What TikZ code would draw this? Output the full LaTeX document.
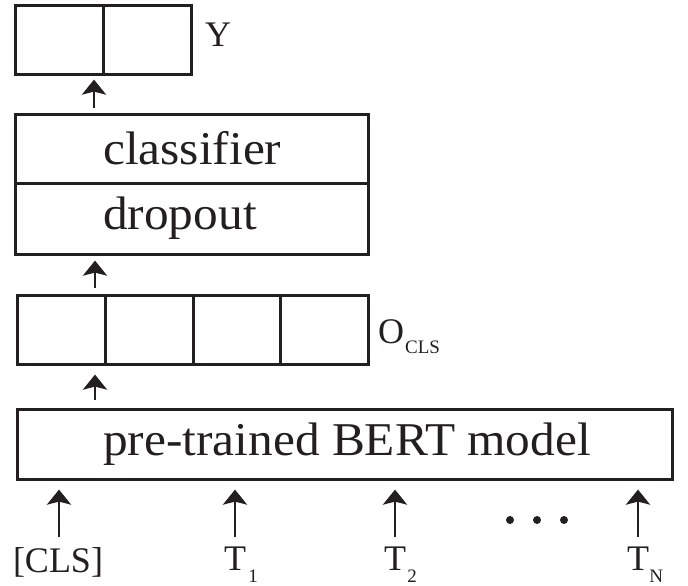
\documentclass[tikz,border=0pt]{standalone}
\usepackage{fontspec}
\setmainfont{Liberation Serif}
\usetikzlibrary{arrows.meta,calc}
\definecolor{ink}{HTML}{231F20}
\begin{document}
\begin{tikzpicture}[x=1pt,y=-1pt,
  cell/.style={draw=ink,line width=2.6pt,inner sep=0pt,anchor=north west},
  big/.style={font=\fontsize{47}{52}\selectfont,inner sep=0pt,text=ink},
  lbl/.style={font=\fontsize{36}{40}\selectfont,inner sep=0pt,text=ink},
  sub/.style={font=\fontsize{19}{21}\selectfont,inner sep=0pt,text=ink},
  arr/.style={draw=ink,line width=2.8pt,-{Stealth[length=15pt,width=24pt,inset=3pt]}}]
\fill[white] (0,0) rectangle (688,586);
\useasboundingbox (0,0) rectangle (688,586);
% output Y
\node[cell,minimum width=88pt,minimum height=69pt] (y1) at (14,4) {};
\node[cell,minimum width=88pt,minimum height=69pt] (y2) at (102,4) {};
\node[lbl,anchor=base west] (ylab) at (205,47) {Y};
% classifier / dropout
\node[cell,minimum width=353pt,minimum height=69pt] (cb) at (14,113) {};
\node[cell,minimum width=353pt,minimum height=71pt] (db) at (14,182) {};
\node[big,anchor=base west] (tc) at (103,164) {\scalebox{1.05}[1]{classifier}};
\node[big,anchor=base west] (td) at (103,229) {\scalebox{1.05}[1]{dropout}};
% O_CLS
\node[cell,minimum width=88pt,minimum height=69pt] (o1) at (16,294) {};
\node[cell,minimum width=88pt,minimum height=69pt] (o2) at (104,294) {};
\node[cell,minimum width=87pt,minimum height=69pt] (o3) at (192,294) {};
\node[cell,minimum width=88pt,minimum height=69pt] (o4) at (279,294) {};
\node[lbl,anchor=base west] (olab) at (378,343) {O};
\node[sub,anchor=base west] (osub) at (405,353) {CLS};
% BERT
\node[cell,minimum width=655pt,minimum height=70pt] (bb) at (16,408) {};
\node[big,anchor=base west] (tb) at (103,455) {\scalebox{1.05}[1]{pre-trained BERT model}};
% vertical arrows
\draw[arr] ([xshift=80pt,yshift=5pt]cb.north west) -- ([xshift=80pt,yshift=-4pt]y1.south west);
\draw[arr] ([xshift=79pt,yshift=6pt]o1.north west) -- ([xshift=81pt,yshift=-5pt]db.south west);
\draw[arr] ([xshift=79pt,yshift=8pt]bb.north west) -- ([xshift=79pt,yshift=-9pt]o1.south west);
% inputs
\node[lbl,anchor=base] (lcls) at (58,572) {[CLS]};
\node[lbl,anchor=base] (lt1) at (235,570) {T};
\node[sub,anchor=base west] (st1) at ([xshift=2pt,yshift=-12pt]lt1.base east) {1};
\node[lbl,anchor=base] (lt2) at (395,570) {T};
\node[sub,anchor=base west] (st2) at ([xshift=1pt,yshift=-12pt]lt2.base east) {2};
\node[lbl,anchor=base] (ltn) at (638,570) {T};
\node[sub,anchor=base west] (stn) at ([xshift=0pt,yshift=-12pt]ltn.base east) {N};
\coordinate (i0) at (59,537);
\coordinate (i1) at (235,537);
\coordinate (i2) at (395,537);
\coordinate (i3) at (638,537);
\foreach \c in {i0,i1,i2,i3}
  \draw[arr,shorten >=9pt] (\c) -- (\c |- bb.south);
% dots
\foreach \x in {510,537,564}
  \fill[ink] (\x,520) circle (4pt);
\end{tikzpicture}
\end{document}
